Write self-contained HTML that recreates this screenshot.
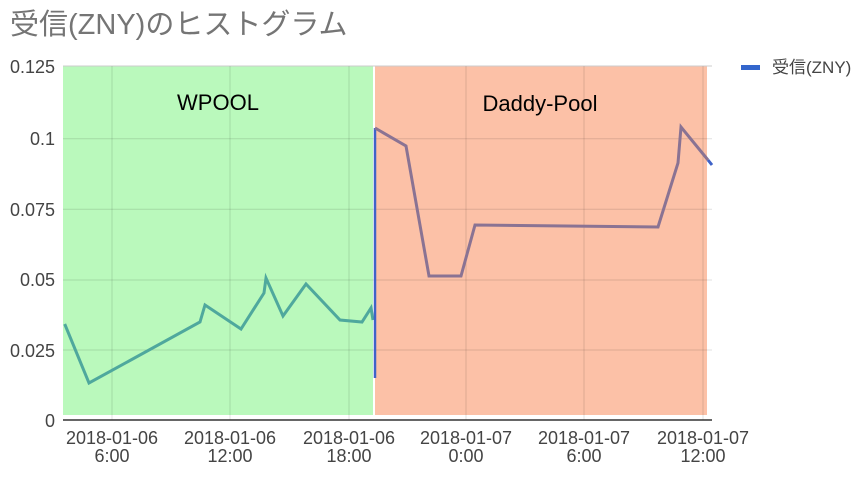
<!DOCTYPE html>
<html><head><meta charset="utf-8"><style>
body{margin:0;background:#fff;width:868px;height:482px;overflow:hidden}
svg{font-family:"Liberation Sans","Noto Sans CJK JP",sans-serif}
</style></head><body>
<svg width="868" height="482" viewBox="0 0 868 482">
<text x="10" y="34" font-size="29" fill="#757575">受信(ZNY)のヒストグラム</text>
<rect x="63" y="66" width="310" height="349" fill="#baf9bc"/>
<rect x="375" y="66" width="332" height="349" fill="#fcc1a7"/>
<line x1="63" y1="66" x2="712" y2="66" stroke="#ccc"/>
<g stroke="#000" stroke-opacity="0.12">
<line x1="63" y1="138.7" x2="712" y2="138.7"/><line x1="63" y1="209.3" x2="712" y2="209.3"/>
<line x1="63" y1="280" x2="712" y2="280"/><line x1="63" y1="350" x2="712" y2="350"/>
<line x1="112" y1="66" x2="112" y2="420"/><line x1="230" y1="66" x2="230" y2="420"/>
<line x1="349" y1="66" x2="349" y2="420"/><line x1="466" y1="66" x2="466" y2="420"/>
<line x1="584" y1="66" x2="584" y2="420"/><line x1="703" y1="66" x2="703" y2="420"/>
</g>
<line x1="63" y1="420" x2="712" y2="420" stroke="#333" stroke-width="1.5"/>
<g font-size="18" fill="#444" text-anchor="end">
<text x="55" y="73">0.125</text><text x="55" y="145">0.1</text><text x="55" y="216">0.075</text>
<text x="55" y="286">0.05</text><text x="55" y="357">0.025</text><text x="55" y="427">0</text>
</g>
<g font-size="18" fill="#444" text-anchor="middle">
<text x="112" y="444">2018-01-06</text><text x="112" y="462">6:00</text>
<text x="230" y="444">2018-01-06</text><text x="230" y="462">12:00</text>
<text x="349" y="444">2018-01-06</text><text x="349" y="462">18:00</text>
<text x="466" y="444">2018-01-07</text><text x="466" y="462">0:00</text>
<text x="584" y="444">2018-01-07</text><text x="584" y="462">6:00</text>
<text x="703" y="444">2018-01-07</text><text x="703" y="462">12:00</text>
</g>
<text x="218" y="110" font-size="22" text-anchor="middle" fill="#000">WPOOL</text>
<text x="540" y="111" font-size="22" text-anchor="middle" fill="#000">Daddy-Pool</text>
<polyline fill="none" stroke="#4fa89d" stroke-width="3" points="64.7,324 89,383 200,322 205,305 241,329 264,293 266,278 283,316 306,284 340,320 362,322 371,308 373,320"/>
<line x1="375" y1="378" x2="375" y2="128" stroke="#3f63c8" stroke-width="2.5"/>
<polyline fill="none" stroke="#8a7393" stroke-width="3" points="375,128 406,146 429,276 461,276 475,225 658,227 678,163 681,127 708,160"/>
<line x1="708" y1="160" x2="712" y2="165" stroke="#3f63c8" stroke-width="3"/>
<rect x="741" y="65" width="19" height="5" fill="#3366cc"/>
<text x="772" y="73" font-size="17" fill="#444">受信(ZNY)</text>
</svg>
</body></html>
